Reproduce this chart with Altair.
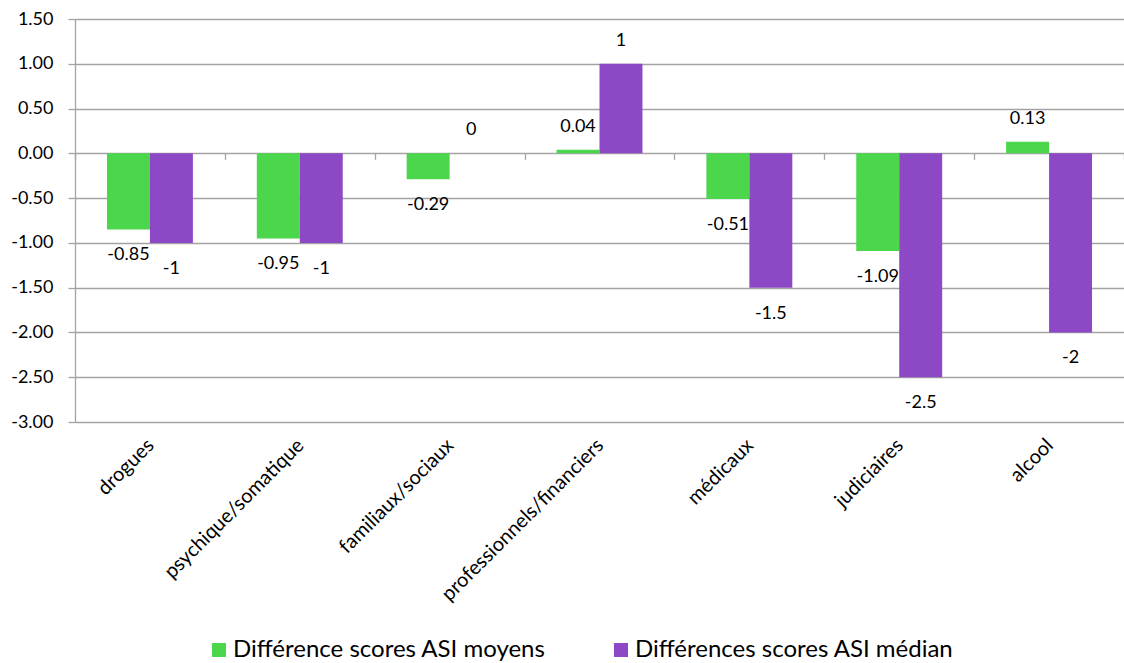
import altair as alt
import pandas as pd

categories = ["drogues", "psychique/somatique", "familiaux/sociaux",
              "professionnels/financiers", "médicaux", "judiciaires", "alcool"]
moyens = [-0.85, -0.95, -0.29, 0.04, -0.51, -1.09, 0.13]
median = [-1, -1, 0, 1, -1.5, -2.5, -2]
moyens_labels = ["-0.85", "-0.95", "-0.29", "0.04", "-0.51", "-1.09", "0.13"]
median_labels = ["-1", "-1", "0", "1", "-1.5", "-2.5", "-2"]
series = ["Différence scores ASI moyens", "Différences scores ASI médian"]
colors = ["#4CD64B", "#8D48C6"]
y_ticks = [-3.0, -2.5, -2.0, -1.5, -1.0, -0.5, 0.0, 0.5, 1.0, 1.5]

rows = []
for c, v, l in zip(categories, moyens, moyens_labels):
    rows.append({"cat": c, "series": series[0], "value": v, "label": l})
for c, v, l in zip(categories, median, median_labels):
    rows.append({"cat": c, "series": series[1], "value": v, "label": l})
df = pd.DataFrame(rows)

FONT = "Lato"
GRID = "#a3a3a3"
W, H = 1049, 403

x_scale = alt.Scale(domain=categories, paddingInner=0, paddingOuter=0)
xoff = alt.XOffset("series:N", sort=series,
                   scale=alt.Scale(domain=series, paddingInner=0, paddingOuter=0.744))
y_scale = alt.Scale(domain=[-3, 1.5], nice=False, zero=False)
y_axis = alt.Axis(values=y_ticks,
                  labelExpr="replace(format(datum.value, '.2f'), '\u2212', '-')",
                  labelFont=FONT, labelFontSize=18, labelColor="#000000",
                  labelPadding=15, tickSize=7, tickColor=GRID, tickWidth=1.3,
                  domainColor=GRID, domainWidth=1.3, gridColor=GRID,
                  gridWidth=1.3)

bars = alt.Chart(df).mark_bar().encode(
    x=alt.X("cat:N", sort=categories, scale=x_scale, title=None,
            axis=alt.Axis(orient="bottom", offset=-268.7, labels=False, domain=False,
                          ticks=True, tickBand="extent", tickSize=6, tickColor=GRID,
                          tickWidth=1.3, grid=False)),
    xOffset=xoff,
    y=alt.Y("value:Q", scale=y_scale, title=None, axis=y_axis),
    color=alt.Color("series:N", sort=series,
                    scale=alt.Scale(domain=series, range=colors),
                    legend=alt.Legend(title=None, orient="none", legendX=132, legendY=619,
                                      direction="horizontal", labelFont=FONT,
                                      labelFontSize=24, labelColor="#000000",
                                      labelLimit=600,
                                      symbolType="square", symbolSize=196,
                                      symbolStrokeWidth=0, columnPadding=63,
                                      labelOffset=2)),
)

pos_text = alt.Chart(df).transform_filter("datum.value >= 0").mark_text(
    font=FONT, fontSize=18, color="#000000", baseline="middle", dy=-23
).encode(
    x=alt.X("cat:N", sort=categories, scale=x_scale, title=None,
            axis=alt.Axis(orient="bottom", labelAngle=315, labelFont=FONT,
                          labelFontSize=20, labelColor="#000000", labelPadding=20,
                          labelAlign="right", labelBaseline="middle", labelOffset=1,
                          labelLimit=400,
                          ticks=False, domain=False, grid=False)),
    xOffset=xoff,
    y=alt.Y("value:Q", scale=y_scale, title=None, axis=y_axis),
    text="label:N",
)

neg_text = alt.Chart(df).transform_filter("datum.value < 0").mark_text(
    font=FONT, fontSize=18, color="#000000", baseline="middle", dy=26
).encode(
    x=alt.X("cat:N", sort=categories, scale=x_scale, axis=None),
    xOffset=xoff,
    y=alt.Y("value:Q", scale=y_scale, title=None, axis=y_axis),
    text="label:N",
)

chart = alt.layer(bars, pos_text, neg_text).resolve_axis(x="independent").properties(
    width=W, height=H,
    autosize=alt.AutoSizeParams(type="none"),
    padding={"left": 75, "top": 19, "right": 0, "bottom": 241},
).configure_view(strokeWidth=0)

chart.save("out.html", embed_options={"renderer": "svg", "actions": False})
